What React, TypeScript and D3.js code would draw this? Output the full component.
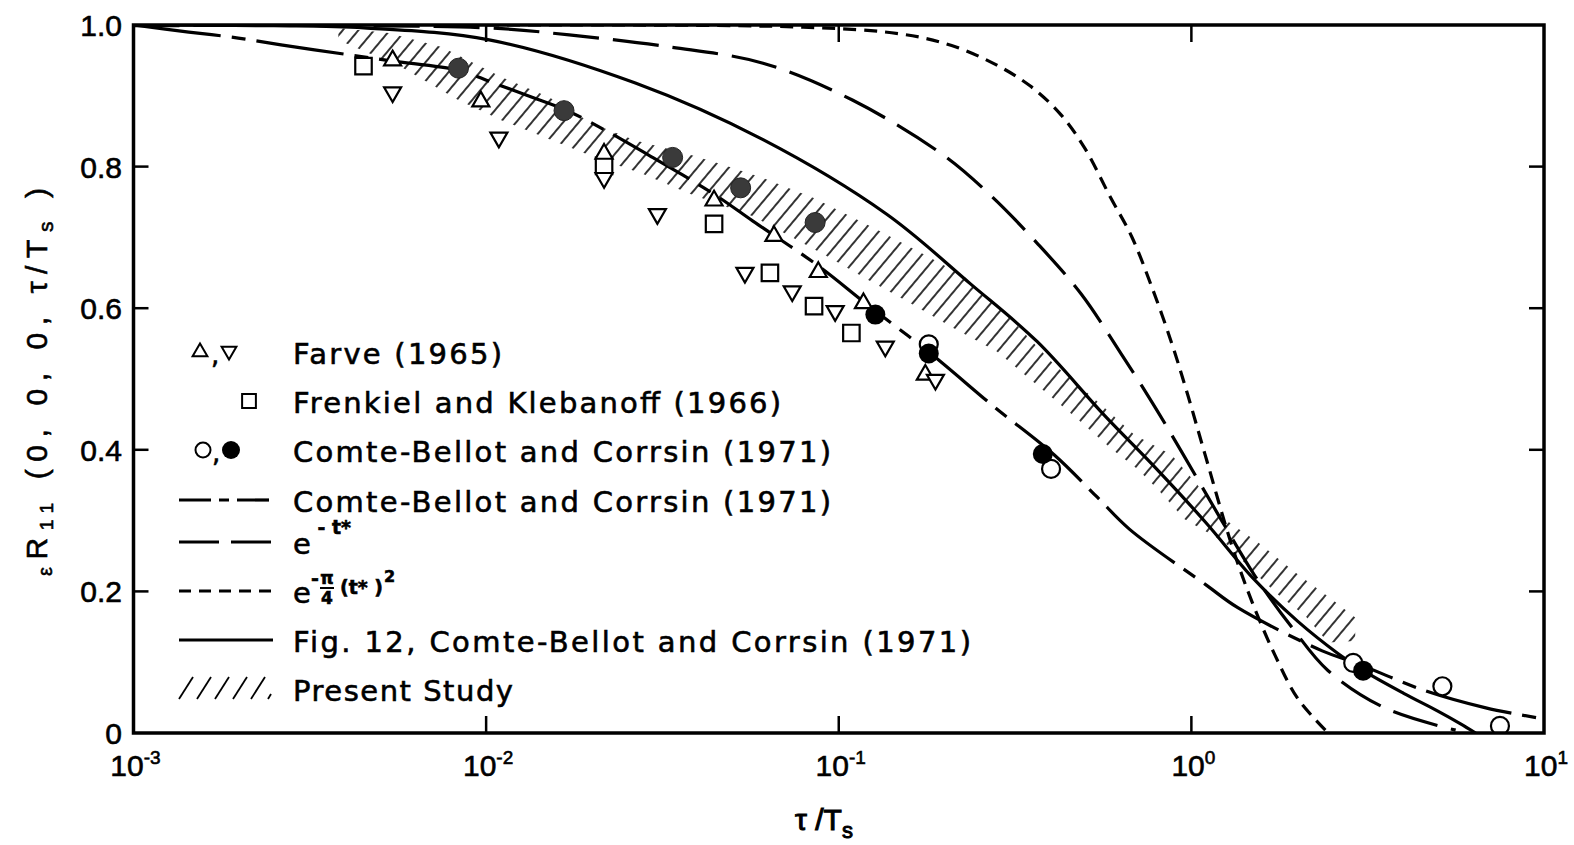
import React from "react";
import * as d3 from "d3";

type P = [number, number];

// ---------- data (tau/Ts, R11) ----------
const farveUp: P[] = [
  [0.00543, 0.95], [0.00966, 0.892], [0.0216, 0.818], [0.0443, 0.752],
  [0.0655, 0.702], [0.0875, 0.651], [0.1175, 0.607], [0.176, 0.506],
];
const farveDown: P[] = [
  [0.00543, 0.905], [0.01087, 0.841], [0.0216, 0.784], [0.0306, 0.733],
  [0.0542, 0.65], [0.0738, 0.624], [0.0977, 0.596], [0.1355, 0.546], [0.188, 0.499],
];
const frenkielSquares: P[] = [
  [0.00449, 0.942], [0.0216, 0.801], [0.0443, 0.719], [0.0638, 0.65], [0.0851, 0.603], [0.1086, 0.565],
];
const comteOpen: P[] = [[0.18, 0.549], [0.4, 0.373], [2.877, 0.099], [5.15, 0.066], [7.5, 0.01]];
const comteFilledHalftone: P[] = [
  [0.00835, 0.939], [0.01663, 0.879], [0.0338, 0.813], [0.0527, 0.77], [0.0857, 0.721],
];
const comteFilled: P[] = [[0.127, 0.591], [0.18, 0.536], [0.379, 0.394], [3.07, 0.088]];

// Comte-Bellot and Corrsin (1971) dash-dot curve
const comteCurve: P[] = [
  [0.001, 1.0], [0.001435, 0.99], [0.00189, 0.983], [0.00262, 0.972], [0.0042, 0.957],
  [0.00543, 0.949], [0.00836, 0.936], [0.01038, 0.919], [0.0135, 0.898], [0.017, 0.879],
  [0.02236, 0.848], [0.02965, 0.813], [0.044, 0.762], [0.0571, 0.723], [0.0874, 0.66],
  [0.1198, 0.606], [0.1834, 0.535], [0.2754, 0.461], [0.408, 0.393], [0.541, 0.333],
  [0.667, 0.288], [1.105, 0.2085], [1.354, 0.177], [2.35, 0.116], [2.915, 0.0993],
  [4.61, 0.0596], [6.84, 0.0355], [10, 0.0199],
];
// e^{-t*}
const expCurve: P[] = [
  [0.001, 0.999], [0.01, 0.996], [0.0172, 0.986], [0.0331, 0.969], [0.061, 0.946],
  [0.1093, 0.894], [0.1983, 0.816], [0.27, 0.759], [0.365, 0.692], [0.487, 0.62],
  [0.633, 0.535], [0.776, 0.466], [0.944, 0.395], [1.219, 0.3], [1.514, 0.222],
  [1.929, 0.149], [2.443, 0.088], [3.55, 0.035], [5.616, 0.004],
];
// e^{-pi/4 (t*)^2}
const gaussCurve: P[] = [
  [0.01, 1.0], [0.0793, 0.997], [0.1517, 0.987], [0.209, 0.971], [0.279, 0.944],
  [0.351, 0.913], [0.427, 0.873], [0.5, 0.825], [0.589, 0.757], [0.676, 0.702],
  [0.771, 0.631], [0.879, 0.551], [0.976, 0.478], [1.091, 0.395], [1.302, 0.265],
  [1.484, 0.186], [1.726, 0.11], [2.007, 0.048], [2.443, 0.0],
];
// Fig. 12, Comte-Bellot and Corrsin (1971)
const fig12Curve: P[] = [
  [0.001, 1.0], [0.0025, 0.999], [0.0045, 0.996], [0.0102, 0.979], [0.0265, 0.918],
  [0.061, 0.838], [0.1365, 0.733], [0.2368, 0.634], [0.365, 0.553], [0.566, 0.449],
  [0.8, 0.372], [1.1, 0.297], [1.5, 0.218], [2.0, 0.158], [2.609, 0.112],
  [3.073, 0.088], [4.0, 0.056], [5.0, 0.031], [5.8, 0.013], [6.4, 0.0],
];
// Present study hatched band
const bandUpper: P[] = [
  [0.00381, 0.9957], [0.00529, 0.9887], [0.00748, 0.9688], [0.01109, 0.9262], [0.01509, 0.8979],
  [0.02, 0.861], [0.0265, 0.8369], [0.0361, 0.82], [0.046, 0.804], [0.061, 0.784],
  [0.0846, 0.756], [0.1254, 0.7135], [0.1822, 0.671], [0.2262, 0.645], [0.314, 0.58],
  [0.408, 0.5206], [0.555, 0.4638], [0.689, 0.4213], [0.878, 0.393], [1.042, 0.35],
  [1.243, 0.302], [1.544, 0.2695], [1.968, 0.227], [2.507, 0.1887], [2.915, 0.163],
];
const bandLower: P[] = [
  [0.00381, 0.9787], [0.00576, 0.9404], [0.00836, 0.8936], [0.01109, 0.8652], [0.0147, 0.8411],
  [0.0204, 0.8128], [0.02776, 0.79], [0.0378, 0.7617], [0.0571, 0.73], [0.0946, 0.671],
  [0.123, 0.638], [0.1557, 0.61], [0.212, 0.5716], [0.2808, 0.539], [0.37, 0.489],
  [0.4745, 0.444], [0.593, 0.4014], [0.703, 0.373], [0.8014, 0.3447], [0.9567, 0.302],
  [1.243, 0.2695], [1.484, 0.2298], [1.76, 0.1957], [2.1, 0.166], [2.443, 0.1277], [2.915, 0.13],
];

const xTicks = [1e-3, 1e-2, 1e-1, 1, 10];
const xTickExponents = ["-3", "-2", "-1", "0", "1"];
const yTicks = [0, 0.2, 0.4, 0.6, 0.8, 1.0];
const yTickLabels = ["0", "0.2", "0.4", "0.6", "0.8", "1.0"];

const legendTexts = [
  "Farve (1965)",
  "Frenkiel and Klebanoff (1966)",
  "Comte-Bellot and Corrsin (1971)",
  "Comte-Bellot and Corrsin (1971)",
  "Fig. 12, Comte-Bellot and Corrsin (1971)",
  "Present Study",
];

// ---------- layout ----------
const W = 1574;
const H = 845;
const L = 133.5, R = 1544, T = 25, B = 733;
const FONT = "'Liberation Sans', Arial, sans-serif";
const LFONT = "'DejaVu Sans', 'Liberation Sans', sans-serif";
const LW = 3.2;
const TS = 0.6; // text stroke to mimic lettering-pen weight

export default function App() {
  const x = d3.scaleLog().domain([1e-3, 10]).range([L, R]);
  const y = d3.scaleLinear().domain([0, 1]).range([B, T]);
  const line = d3
    .line<P>()
    .x((d) => x(d[0]))
    .y((d) => y(d[1]))
    .curve(d3.curveCatmullRom.alpha(0.5));
  const poly = d3
    .line<P>()
    .x((d) => x(d[0]))
    .y((d) => y(d[1]))
    .curve(d3.curveLinearClosed);

  const tri = d3.symbol(d3.symbolTriangle, 125)()!;
  const triSmall = d3.symbol(d3.symbolTriangle, 95)()!;
  const sq = d3.symbol(d3.symbolSquare, 272)()!;
  const sqSmall = d3.symbol(d3.symbolSquare, 190)()!;

  const bandPts = bandUpper.concat(bandLower.slice().reverse());

  const legX = 293;
  const legLine0 = 179, legLine1 = 273;
  const rowY = [352, 401, 450, 500, 542, 591, 640, 689];
  const tp = { fill: "#000", stroke: "#000", strokeWidth: TS } as const;

  return (
    <svg
      width={W}
      height={H}
      style={{ position: "absolute", left: 0, top: 0, background: "#fff" }}
      fontFamily={FONT}
    >
      <defs>
        <pattern id="hatch" patternUnits="userSpaceOnUse" width={12} height={10} patternTransform="rotate(40)">
          <line x1={6} y1={0} x2={6} y2={10} stroke="#000" strokeWidth={1.6} />
        </pattern>
        <clipPath id="plotclip">
          <rect x={L} y={T} width={R - L} height={B - T} />
        </clipPath>
      </defs>
      <rect x={0} y={0} width={W} height={H} fill="#fff" />

      <g clipPath="url(#plotclip)">
        {/* hatched band */}
        <path d={poly(bandPts)!} fill="url(#hatch)" stroke="none" />

        {/* curves */}
        <path d={line(gaussCurve)!} fill="none" stroke="#000" strokeWidth={LW} strokeDasharray="13 8" />
        <path d={line(expCurve)!} fill="none" stroke="#000" strokeWidth={LW} strokeDasharray="46 14" />
        <path d={line(fig12Curve)!} fill="none" stroke="#000" strokeWidth={LW} />
        <path d={line(comteCurve)!} fill="none" stroke="#000" strokeWidth={LW} strokeDasharray="88 11 14 11" />

        {/* markers */}
        {frenkielSquares.map((d, i) => (
          <path key={"s" + i} d={sq} transform={`translate(${x(d[0])},${y(d[1])})`} fill="#fff" stroke="#000" strokeWidth={2.2} />
        ))}
        {farveUp.map((d, i) => (
          <path key={"u" + i} d={tri} transform={`translate(${x(d[0])},${y(d[1])})`} fill="#fff" stroke="#000" strokeWidth={2.2} />
        ))}
        {farveDown.map((d, i) => (
          <path key={"d" + i} d={tri} transform={`translate(${x(d[0])},${y(d[1])}) rotate(180)`} fill="#fff" stroke="#000" strokeWidth={2.2} />
        ))}
        {comteOpen.map((d, i) => (
          <circle key={"o" + i} cx={x(d[0])} cy={y(d[1])} r={9} fill="#fff" stroke="#000" strokeWidth={2.2} />
        ))}
        {comteFilledHalftone.map((d, i) => (
          <circle key={"h" + i} cx={x(d[0])} cy={y(d[1])} r={10} fill="#3a3a3a" stroke="#222" strokeWidth={1} />
        ))}
        {comteFilled.map((d, i) => (
          <circle key={"f" + i} cx={x(d[0])} cy={y(d[1])} r={10} fill="#000" />
        ))}
      </g>

      {/* frame */}
      <rect x={L} y={T} width={R - L} height={B - T} fill="none" stroke="#000" strokeWidth={3.5} />
      {xTicks.slice(1, -1).map((t, i) => (
        <g key={"xt" + i}>
          <line x1={x(t)} x2={x(t)} y1={B} y2={B - 17} stroke="#000" strokeWidth={2.5} />
          <line x1={x(t)} x2={x(t)} y1={T} y2={T + 17} stroke="#000" strokeWidth={2.5} />
        </g>
      ))}
      {yTicks.slice(1, -1).map((t, i) => (
        <g key={"yt" + i}>
          <line x1={L} x2={L + 15} y1={y(t)} y2={y(t)} stroke="#000" strokeWidth={2.5} />
          <line x1={R} x2={R - 15} y1={y(t)} y2={y(t)} stroke="#000" strokeWidth={2.5} />
        </g>
      ))}

      {/* tick labels */}
      {yTicks.map((t, i) => (
        <text key={"yl" + i} x={122} y={y(t) + 11} fontSize={30} textAnchor="end" {...tp}>
          {yTickLabels[i]}
        </text>
      ))}
      {xTicks.map((t, i) => (
        <text key={"xl" + i} x={x(t) + 2} y={776} fontSize={30} textAnchor="middle" {...tp}>
          10
          <tspan fontSize={19} dy={-12}>{xTickExponents[i]}</tspan>
        </text>
      ))}

      {/* axis titles */}
      <text x={824} y={830} fontSize={30} textAnchor="middle" {...tp} strokeWidth={1}>
        τ /T<tspan fontSize={22} dy={8}>s</tspan>
      </text>
      <text transform="translate(47,382) rotate(-90)" fontSize={30} textAnchor="middle" {...tp} textLength={388} lengthAdjust="spacing">
        <tspan fontSize={20} dy={5}>ε</tspan>
        <tspan dy={-5}>R</tspan>
        <tspan fontSize={19} dy={6}>11</tspan>
        <tspan dy={-6}>{"  (0,  0,  0,  τ/T"}</tspan>
        <tspan fontSize={21} dy={6}>s</tspan>
        <tspan dy={-6}>{" )"}</tspan>
      </text>

      {/* legend */}
      <g fontFamily={LFONT}>
        {/* row 1: Farve */}
        <path d={triSmall} transform={`translate(200,${rowY[0]})`} fill="#fff" stroke="#000" strokeWidth={2} />
        <text x={211} y={rowY[0] + 12} fontSize={26} {...tp}>,</text>
        <path d={triSmall} transform={`translate(229,${rowY[0] - 1}) rotate(180)`} fill="#fff" stroke="#000" strokeWidth={2} />
        <text x={legX} y={rowY[0] + 12} fontSize={29} textLength={209} lengthAdjust="spacing" {...tp}>{legendTexts[0]}</text>

        {/* row 2: Frenkiel */}
        <path d={sqSmall} transform={`translate(249,${rowY[1]})`} fill="#fff" stroke="#000" strokeWidth={2} />
        <text x={legX} y={rowY[1] + 12} fontSize={29} textLength={488} lengthAdjust="spacing" {...tp}>{legendTexts[1]}</text>

        {/* row 3: Comte-Bellot circles */}
        <circle cx={203} cy={rowY[2]} r={7.5} fill="#fff" stroke="#000" strokeWidth={2} />
        <text x={212} y={rowY[2] + 12} fontSize={26} {...tp}>,</text>
        <circle cx={231} cy={rowY[2]} r={9} fill="#000" />
        <text x={legX} y={rowY[2] + 12} fontSize={29} textLength={538} lengthAdjust="spacing" {...tp}>{legendTexts[2]}</text>

        {/* row 4: Comte-Bellot dashed line */}
        <line x1={legLine0} x2={legLine1} y1={rowY[3]} y2={rowY[3]} stroke="#000" strokeWidth={LW} strokeDasharray="32 8 10 8" />
        <text x={legX} y={rowY[3] + 12} fontSize={29} textLength={538} lengthAdjust="spacing" {...tp}>{legendTexts[3]}</text>

        {/* row 5: e^{-t*} */}
        <line x1={legLine0} x2={legLine1} y1={rowY[4]} y2={rowY[4]} stroke="#000" strokeWidth={LW} strokeDasharray="40 12" />
        <text x={legX} y={rowY[4] + 12} fontSize={29} {...tp}>
          e
          <tspan fontSize={19} dy={-20} fontWeight="bold">{" - t*"}</tspan>
        </text>

        {/* row 6: e^{-pi/4 (t*)^2} */}
        <line x1={legLine0} x2={legLine1} y1={rowY[5]} y2={rowY[5]} stroke="#000" strokeWidth={LW} strokeDasharray="12 8" />
        <text x={legX} y={rowY[5] + 12} fontSize={29} {...tp}>e</text>
        <text x={311} y={rowY[5] - 6} fontSize={19} fontWeight="bold" {...tp}>-</text>
        <text x={327} y={rowY[5] - 7} fontSize={17} fontWeight="bold" textAnchor="middle" {...tp}>π</text>
        <line x1={320} x2={334} y1={rowY[5] - 3} y2={rowY[5] - 3} stroke="#000" strokeWidth={2} />
        <text x={327} y={rowY[5] + 13} fontSize={17} fontWeight="bold" textAnchor="middle" {...tp}>4</text>
        <text x={340} y={rowY[5] + 3} fontSize={19} fontWeight="bold" {...tp}>(t* )</text>
        <text x={384} y={rowY[5] - 9} fontSize={16} fontWeight="bold" {...tp}>2</text>

        {/* row 7: Fig. 12 solid */}
        <line x1={legLine0} x2={legLine1} y1={rowY[6]} y2={rowY[6]} stroke="#000" strokeWidth={LW} />
        <text x={legX} y={rowY[6] + 12} fontSize={29} textLength={678} lengthAdjust="spacing" {...tp}>{legendTexts[4]}</text>

        {/* row 8: Present study hatch */}
        {d3.range(5).map((i) => (
          <line key={"lh" + i} x1={179 + i * 18} y1={rowY[7] + 10} x2={193 + i * 18} y2={rowY[7] - 12} stroke="#000" strokeWidth={1.8} />
        ))}
        <line x1={268} y1={rowY[7] + 10} x2={271} y2={rowY[7] + 5} stroke="#000" strokeWidth={1.8} />
        <text x={legX} y={rowY[7] + 12} fontSize={29} textLength={220} lengthAdjust="spacing" {...tp}>{legendTexts[5]}</text>
      </g>
    </svg>
  );
}
